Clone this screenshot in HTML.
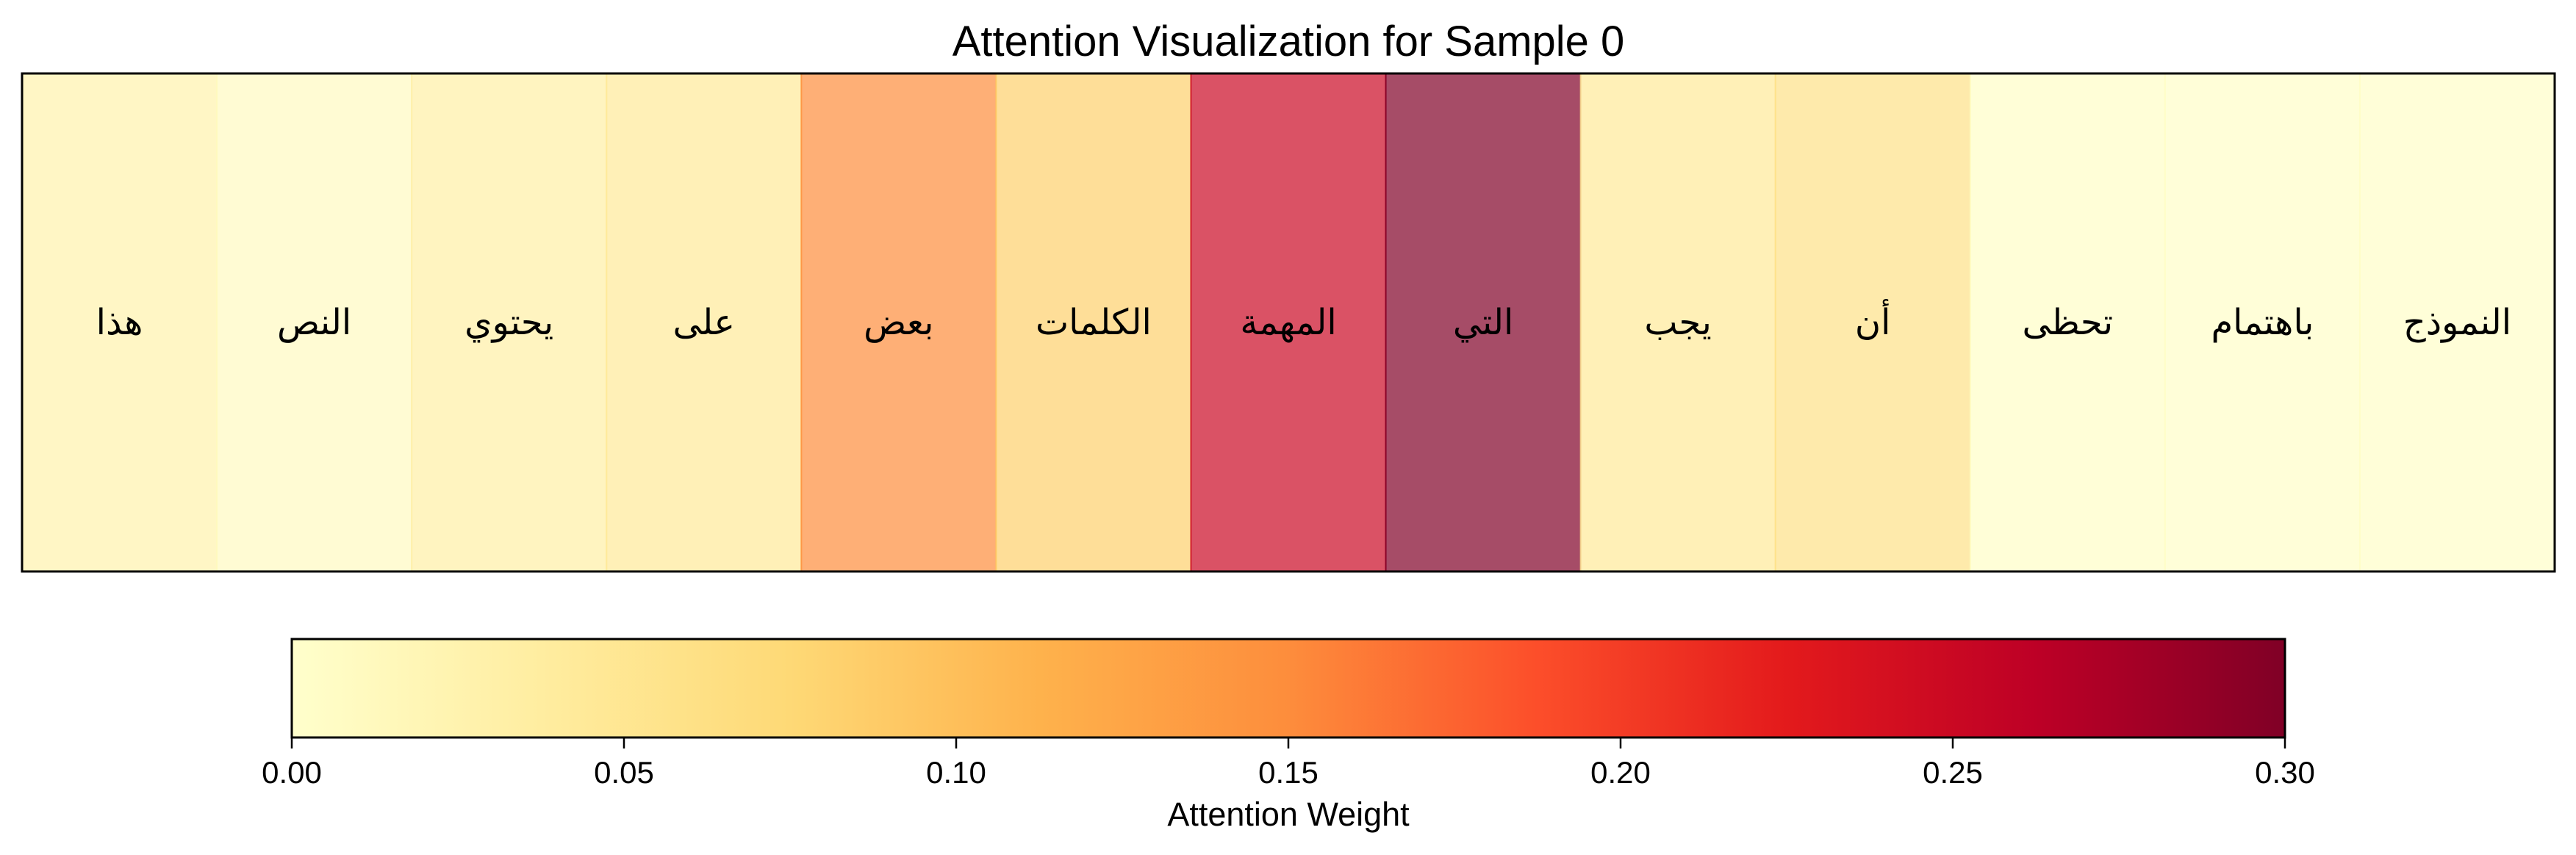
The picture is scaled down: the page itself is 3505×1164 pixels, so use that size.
<!DOCTYPE html>
<html><head><meta charset="utf-8"><style>
html,body{margin:0;padding:0;background:#fff;}
svg{display:block;}
</style></head><body>
<svg id="chart" width="3505" height="1164" viewBox="0 0 3505 1164" xmlns="http://www.w3.org/2000/svg">
<defs>
<linearGradient id="cmap" x1="0" x2="1" y1="0" y2="0">
<stop offset="0" stop-color="#ffffcc"/><stop offset="0.125" stop-color="#ffeda0"/><stop offset="0.25" stop-color="#fed976"/><stop offset="0.375" stop-color="#feb24c"/><stop offset="0.5" stop-color="#fd8d3c"/><stop offset="0.625" stop-color="#fc4e2a"/><stop offset="0.75" stop-color="#e31a1c"/><stop offset="0.875" stop-color="#bd0026"/><stop offset="1" stop-color="#800026"/>
</linearGradient>
</defs>
<text x="1753" y="76" text-anchor="middle" font-family="Liberation Sans, DejaVu Sans, sans-serif" font-size="58">Attention Visualization for Sample 0</text>
<g id="cells"></g>
<rect x="30" y="100" width="3446" height="678" fill="none" stroke="#000" stroke-width="3"/>
<rect x="397" y="870" width="2712" height="134" fill="url(#cmap)" stroke="#000" stroke-width="3"/>
<g id="ticks"></g>
<text x="1753" y="1124" text-anchor="middle" font-family="Liberation Sans, DejaVu Sans, sans-serif" font-size="45">Attention Weight</text>
</svg>
<script>
const tokens = ["هذا","النص","يحتوي","على","بعض","الكلمات","المهمة","التي","يجب","أن","تحظى","باهتمام","النموذج"];
const weights = [0.027,0.01,0.033,0.045,0.15,0.084,0.25,0.30,0.045,0.06,0.005,0.004,0.004];
const tickValues = [0,0.05,0.10,0.15,0.20,0.25,0.30];
const tickLabels = ["0.00","0.05","0.10","0.15","0.20","0.25","0.30"];
const vmax = 0.30;
const stops = ["#ffffcc","#ffeda0","#fed976","#feb24c","#fd8d3c","#fc4e2a","#e31a1c","#bd0026","#800026"];
function hex(h){return [1,3,5].map(i=>parseInt(h.substr(i,2),16));}
function cmap(v){
  let t=Math.max(0,Math.min(1,v/vmax))*(stops.length-1);
  let i=Math.min(stops.length-2,Math.floor(t)),f=t-i;
  let a=hex(stops[i]),b=hex(stops[i+1]);
  return "rgb("+a.map((c,k)=>Math.round(c+(b[k]-c)*f)).join(",")+")";
}
const NS="http://www.w3.org/2000/svg";
const X0=30,W=3446,Y0=100,H=678;
const cw=W/tokens.length;
const xCell=i=>X0+i*cw;
const cb0=397,cbW=2712;
const xCb=v=>cb0+v/vmax*cbW;
const cells=document.getElementById('cells');
tokens.forEach((tok,i)=>{
  const r=document.createElementNS(NS,'rect');
  
  
  r.setAttribute('x',xCell(i));r.setAttribute('y',Y0);
  r.setAttribute('width',cw);r.setAttribute('height',H);
  r.setAttribute('fill',cmap(weights[i]));r.setAttribute('fill-opacity','0.7');
  r.setAttribute('stroke',cmap(weights[i]));r.setAttribute('stroke-width','2');r.setAttribute('stroke-opacity','0.8');
  cells.appendChild(r);
  const t=document.createElementNS(NS,'text');
  
  
  t.setAttribute('x',xCell(i)+cw/2);t.setAttribute('y',Y0+H/2+16);
  t.setAttribute('text-anchor','middle');
  t.setAttribute('font-family','DejaVu Sans, Liberation Sans, sans-serif');
  t.setAttribute('font-size','48');
  t.textContent=tok;
  cells.appendChild(t);
});
const ticks=document.getElementById('ticks');
tickValues.forEach((v,i)=>{
  const l=document.createElementNS(NS,'line');
  
  
  l.setAttribute('x1',xCb(v));l.setAttribute('x2',xCb(v));
  l.setAttribute('y1',1004);l.setAttribute('y2',1019);
  l.setAttribute('stroke','#000');l.setAttribute('stroke-width','2.5');
  ticks.appendChild(l);
  const t=document.createElementNS(NS,'text');
  
  
  t.setAttribute('x',xCb(v));t.setAttribute('y',1066);
  t.setAttribute('text-anchor','middle');
  t.setAttribute('font-family','Liberation Sans, DejaVu Sans, sans-serif');
  t.setAttribute('font-size','42');
  t.textContent=tickLabels[i];
  ticks.appendChild(t);
});
</script>
</body></html>
